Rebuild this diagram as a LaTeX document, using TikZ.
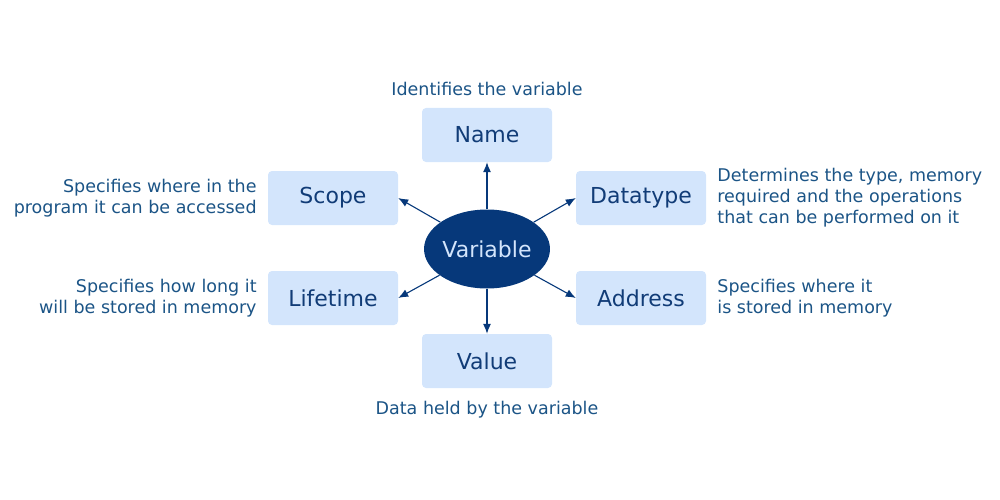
\documentclass[tikz,border=0pt]{standalone}
\usepackage{fontspec}
\setmainfont{DejaVu Sans}
\usepackage{xcolor}
\usetikzlibrary{arrows.meta, positioning, shapes.geometric}
\definecolor{boxblue}{HTML}{D3E5FC}
\definecolor{navyfill}{HTML}{06387A}
\definecolor{itemtext}{HTML}{113C77}
\definecolor{notetext}{HTML}{1B5486}

\begin{document}
\begin{tikzpicture}[x=1pt, y=-1pt,
		item/.style = {fill=boxblue, rounded corners=4pt, minimum width=130pt, minimum height=54pt, inner sep=0pt, text=itemtext, font=\fontsize{22}{26}\selectfont},
		note/.style = {inner sep=0pt, text=notetext, font=\fontsize{17.5}{21}\selectfont},
		link/.style = {draw=navyfill, line width=1.1pt, -{Latex[length=10pt, width=8pt]}}]
			\useasboundingbox (0,0) rectangle (1000,500);
			\node [ellipse, fill=navyfill, minimum width=124pt, minimum height=79pt, inner sep=0pt, text=boxblue, font=\fontsize{22}{26}\selectfont] (var) at (487,249) {Variable};
			\node [item] (name) at (487,135) {Name};
			\node [item] (scope) at (333,198) {Scope};
			\node [item] (dtype) at (641,198) {Datatype};
			\node [item] (life) at (333,298) {Lifetime};
			\node [item] (addr) at (641,298) {Address};
			\node [item] (value) at (487,361) {Value};
			\node [note, above=12pt of name] (nametxt) {Identifies the variable};
			\node [note, left=11pt of scope, align=right] (scopetxt) {Specifies where in the\\program it can be accessed};
			\node [note, right=11pt of dtype, align=left] (dtypetxt) {Determines the type, memory\\required and the operations\\that can be performed on it};
			\node [note, left=11pt of life, align=right] (lifetxt) {Specifies how long it\\will be stored in memory};
			\node [note, right=11pt of addr, align=left] (addrtxt) {Specifies where it\\is stored in memory};
			\node [note, below=13pt of value] (valuetxt) {Data held by the variable};
			\draw [link] (var) -- (name);
			\draw [link] (var) -- (value);
			\draw [link] (var) -- (scope.east);
			\draw [link] (var) -- (dtype.west);
			\draw [link] (var) -- (life.east);
			\draw [link] (var) -- (addr.west);
		\end{tikzpicture}
\end{document}
